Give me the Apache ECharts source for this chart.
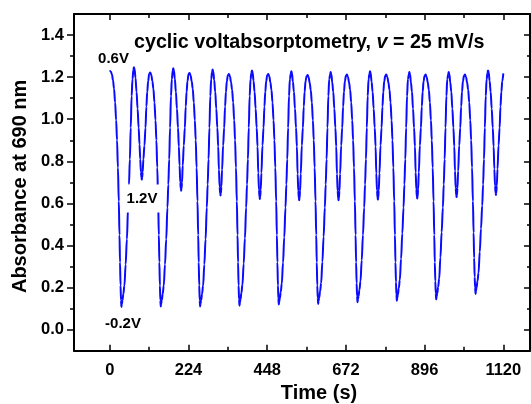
<!DOCTYPE html>
<html><head><meta charset="utf-8">
<script src="https://cdn.jsdelivr.net/npm/echarts@6/dist/echarts.min.js"></script>
<style>html,body{margin:0;padding:0;background:#fff}#c{width:531px;height:404px}</style>
</head><body><div id="c"></div>
<script>
// ---- data (time in s, absorbance at 690 nm) ----
const cycleStarts = [0, 112, 224, 336, 448, 560, 672, 784, 896, 1008];
// sampling offsets within each 112 s potential cycle
const tau = [0,3,6,9,12,15,18,20.5,23,25.5,27.5,29,30.5,31.8,33,34.3,36,38.5,41.5,45,48.5,52,54.5,57,59.5,62,64.5,67,68.5,70.5,73,76,79,82,84.5,86.5,88.5,90,91,92,93.5,95.5,98.5,101.5,104,106.5,109];
const abs1  = [1.232,1.226,1.212,1.185,1.145,1.08,0.995,0.90,0.77,0.61,0.45,0.32,0.21,0.14,0.108,0.122,0.14,0.17,0.21,0.31,0.43,0.58,0.69,0.81,0.96,1.11,1.19,1.235,1.247,1.237,1.197,1.13,1.05,0.96,0.88,0.81,0.75,0.723,0.713,0.723,0.75,0.81,0.875,0.96,1.06,1.13,1.18];
const abs2  = [1.216,1.222,1.21,1.182,1.145,1.08,0.995,0.90,0.77,0.61,0.45,0.32,0.21,0.14,0.11,0.125,0.14,0.17,0.21,0.31,0.43,0.58,0.69,0.81,0.96,1.11,1.19,1.23,1.242,1.232,1.192,1.13,1.05,0.96,0.87,0.78,0.70,0.67,0.66,0.67,0.70,0.78,0.875,0.96,1.06,1.13,1.18];
const abs3  = [1.214,1.22,1.208,1.18,1.145,1.08,0.995,0.90,0.77,0.61,0.45,0.32,0.21,0.14,0.11,0.125,0.14,0.17,0.21,0.31,0.43,0.58,0.69,0.81,0.96,1.11,1.19,1.224,1.236,1.226,1.186,1.13,1.05,0.96,0.87,0.76,0.68,0.648,0.638,0.648,0.68,0.76,0.875,0.96,1.06,1.13,1.18];
const abs4  = [1.209,1.215,1.203,1.176,1.14,1.08,0.995,0.90,0.77,0.61,0.45,0.32,0.21,0.144,0.114,0.129,0.144,0.174,0.214,0.314,0.434,0.58,0.69,0.81,0.96,1.11,1.19,1.22,1.232,1.222,1.182,1.13,1.05,0.96,0.87,0.745,0.665,0.632,0.621,0.632,0.665,0.745,0.875,0.96,1.06,1.13,1.18];
const abs5  = [1.209,1.215,1.203,1.176,1.14,1.08,0.995,0.90,0.77,0.61,0.45,0.32,0.21,0.149,0.119,0.134,0.149,0.179,0.219,0.319,0.439,0.58,0.69,0.81,0.96,1.11,1.19,1.216,1.228,1.218,1.178,1.13,1.05,0.96,0.87,0.74,0.66,0.626,0.615,0.626,0.66,0.74,0.875,0.96,1.06,1.13,1.18];
const abs6  = [1.204,1.21,1.198,1.172,1.138,1.08,0.995,0.90,0.77,0.61,0.45,0.32,0.21,0.152,0.122,0.137,0.152,0.182,0.222,0.322,0.442,0.58,0.69,0.81,0.96,1.11,1.19,1.212,1.224,1.214,1.176,1.13,1.05,0.96,0.87,0.74,0.66,0.626,0.615,0.626,0.66,0.74,0.875,0.96,1.06,1.13,1.18];
const abs7  = [1.206,1.212,1.20,1.174,1.14,1.08,0.995,0.90,0.77,0.61,0.45,0.32,0.22,0.16,0.13,0.145,0.16,0.19,0.23,0.33,0.45,0.58,0.69,0.81,0.96,1.11,1.19,1.216,1.228,1.218,1.178,1.13,1.05,0.96,0.87,0.742,0.662,0.628,0.618,0.628,0.662,0.742,0.875,0.96,1.06,1.13,1.18];
const abs8  = [1.206,1.212,1.20,1.174,1.14,1.08,0.995,0.90,0.77,0.61,0.45,0.32,0.225,0.167,0.137,0.152,0.167,0.197,0.237,0.337,0.457,0.58,0.69,0.81,0.96,1.11,1.19,1.212,1.224,1.214,1.176,1.13,1.05,0.96,0.87,0.747,0.667,0.633,0.623,0.633,0.667,0.747,0.875,0.96,1.06,1.13,1.18];
const abs9  = [1.206,1.212,1.20,1.174,1.14,1.08,0.995,0.90,0.77,0.61,0.45,0.32,0.23,0.173,0.143,0.158,0.173,0.203,0.243,0.343,0.463,0.58,0.69,0.81,0.96,1.11,1.19,1.212,1.224,1.214,1.176,1.13,1.05,0.96,0.87,0.754,0.674,0.64,0.63,0.64,0.674,0.754,0.875,0.96,1.06,1.13,1.18];
const abs10 = [1.206,1.212,1.20,1.174,1.14,1.08,0.995,0.90,0.77,0.61,0.46,0.34,0.25,0.20,0.17,0.185,0.20,0.23,0.27,0.37,0.48,0.59,0.69,0.81,0.96,1.11,1.19,1.22,1.232,1.222,1.182,1.13,1.05,0.96,0.87,0.764,0.684,0.65,0.64,0.65,0.684,0.764,0.875,0.96,1.06,1.13,1.18];
const finalTime = 1120, finalAbs = 1.218;

const xMajor = [0, 224, 448, 672, 896, 1120];
const xMinor = [112, 336, 560, 784, 1008];
const yMajor = [0, 0.2, 0.4, 0.6, 0.8, 1.0, 1.2, 1.4];
const yMinor = [0.1, 0.3, 0.5, 0.7, 0.9, 1.1, 1.3];

const cycles = [abs1, abs2, abs3, abs4, abs5, abs6, abs7, abs8, abs9, abs10];
const seriesData = [];
cycles.forEach((arr, k) => arr.forEach((a, i) => seriesData.push([cycleStarts[k] + tau[i], a])));
seriesData.push([finalTime, finalAbs]);

const FONT = '"Liberation Sans", Arial, sans-serif';
const X_MIN = -102, X_MAX = 1196, Y_MIN = -0.1, Y_MAX = 1.5;
const line2 = { show: true, onZero: false, lineStyle: { color: '#000', width: 2 } };
const tickStyle = { color: '#000', width: 1.5 };
const lbl = { color: '#000', fontWeight: 'bold', fontSize: 16.5, fontFamily: FONT };

function xAx(pos, custom, len, showLine, label, extra) {
  return Object.assign({
    type: 'value', position: pos, min: X_MIN, max: X_MAX,
    axisLine: showLine ? line2 : { show: false, onZero: false },
    axisTick: { show: true, inside: true, length: len, lineStyle: tickStyle, customValues: custom },
    axisLabel: label ? Object.assign({ customValues: custom, margin: 11, formatter: v => String(Math.round(v)) }, lbl) : { show: false },
    splitLine: { show: false }
  }, extra || {});
}
function yAx(pos, custom, len, inside, showLine, label, extra) {
  return Object.assign({
    type: 'value', position: pos, min: Y_MIN, max: Y_MAX,
    axisLine: showLine ? line2 : { show: false, onZero: false },
    axisTick: { show: true, inside: inside, length: len, lineStyle: tickStyle, customValues: custom },
    axisLabel: label ? Object.assign({ customValues: custom, margin: 10, formatter: v => Number(v).toFixed(1) }, lbl) : { show: false },
    splitLine: { show: false }
  }, extra || {});
}

const chart = echarts.init(document.getElementById('c'), null, { renderer: 'canvas' });
chart.setOption({
  animation: false,
  backgroundColor: '#fff',
  grid: { left: 74, right: 1, top: 14, bottom: 53.3, containLabel: false, outerBoundsMode: 'none' },
  xAxis: [
    xAx('bottom', xMajor, 6, true, true, {
      name: 'Time (s)', nameLocation: 'middle', nameGap: 31,
      nameTextStyle: { color: '#000', fontWeight: 'bold', fontSize: 20, fontFamily: FONT, padding: [0, 0, 0, 34] }
    }),
    xAx('bottom', xMinor, 4, false, false),
    xAx('top', xMajor, 6, true, false),
    xAx('top', xMinor, 4, false, false)
  ],
  yAxis: [
    yAx('left', yMajor, 7, false, true, true, {
      name: 'Absorbance at 690 nm', nameLocation: 'middle', nameRotate: 90, nameGap: 40,
      nameTextStyle: { color: '#000', fontWeight: 'bold', fontSize: 20, fontFamily: FONT, padding: [0, 8, 0, 0] }
    }),
    yAx('left', yMinor, 4, false, false, false),
    yAx('right', yMajor, 6, true, true, false),
    yAx('right', yMinor, 3, true, false, false)
  ],
  series: [{
    type: 'line', xAxisIndex: 0, yAxisIndex: 0, data: seriesData,
    showSymbol: false, smooth: 0.4, smoothMonotone: 'x',
    lineStyle: { color: '#0a0aff', width: 2 }, z: 5
  }],
  graphic: [
    { type: 'text', x: 134, y: 43, z: 100, style: {
      text: '{a|cyclic voltabsorptometry, }{b|v}{a| = 25 mV/s}',
      align: 'left', textAlign: 'left', verticalAlign: 'middle', textVerticalAlign: 'middle',
      rich: {
        a: { fontWeight: 'bold', fontSize: 19.7, fontFamily: FONT, fill: '#000', color: '#000' },
        b: { fontWeight: 'bold', fontStyle: 'italic', fontSize: 19.7, fontFamily: FONT, fill: '#000', color: '#000' }
      } } },
    { type: 'text', x: 113.5, y: 58.5, z: 100, style: {
      text: '0.6V', font: 'bold 15px ' + FONT, fill: '#000',
      align: 'center', textAlign: 'center', verticalAlign: 'middle', textVerticalAlign: 'middle' } },
    { type: 'text', x: 142, y: 198.5, z: 100, style: {
      text: '1.2V', font: 'bold 15px ' + FONT, fill: '#000', backgroundColor: '#fff', padding: [9, 4, 4, 4],
      align: 'center', textAlign: 'center', verticalAlign: 'middle', textVerticalAlign: 'middle' } },
    { type: 'text', x: 123, y: 323.5, z: 100, style: {
      text: '-0.2V', font: 'bold 15px ' + FONT, fill: '#000',
      align: 'center', textAlign: 'center', verticalAlign: 'middle', textVerticalAlign: 'middle' } }
  ]
});
</script></body></html>
